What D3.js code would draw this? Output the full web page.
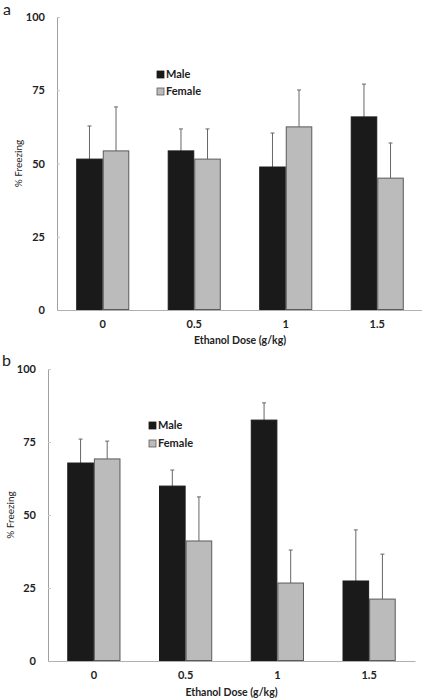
<!DOCTYPE html>
<html><head><meta charset="utf-8">
<script src="https://cdn.jsdelivr.net/npm/d3@7"></script>
<style>
html,body{margin:0;padding:0;background:#fff;}
svg text{font-family:Lato,"Open Sans",sans-serif;}
</style></head>
<body><svg id="c" width="422" height="698"></svg>
<script>
const categories = ["0","0.5","1","1.5"];
const seriesNames = ["Male","Female"];
const yTicks = [0,25,50,75,100];
// panel a
const maleA = [51.5,54.3,48.8,65.9];
const maleAErr = [11.3,7.5,11.6,11.2];
const femaleA = [54.3,51.5,62.5,45.0];
const femaleAErr = [15.0,10.3,12.6,12.0];
// panel b
const maleB = [67.8,59.9,82.5,27.4];
const maleBErr = [8.2,5.5,5.9,17.5];
const femaleB = [69.2,41.1,26.7,21.2];
const femaleBErr = [6.1,15.1,11.3,15.4];

const svg = d3.select("#c");
const colors = {Male:"#1a1a1a", Female:"#bbbbbb"};
const strokes = {Male:"#1a1a1a", Female:"#5a5a5a"};

function panel(cfg){
  const g = svg.append("g");
  const x = d3.scaleBand().domain(categories).range([cfg.x0,cfg.x1]).paddingInner(0.42).paddingOuter(0.21);
  const xs = d3.scaleBand().domain(seriesNames).range([0,x.bandwidth()]);
  const y = d3.scaleLinear().domain([0,100]).range([cfg.y0,cfg.y1]);
  // y axis
  const ya = g.append("g").attr("transform",`translate(${cfg.x0},0)`)
    .call(d3.axisRight(y).tickValues(yTicks).tickSize(3).tickFormat(""));
  ya.select(".domain").attr("stroke","#a0a0a0");
  ya.selectAll(".tick line").attr("stroke","#c8c8c8");
  g.selectAll(".ytl").data(yTicks).join("text").attr("class","ytl")
    .attr("x",cfg.x0-12).attr("y",d=>y(d)+4).attr("text-anchor","end")
    .attr("font-size",11).attr("font-weight","bold").attr("fill","#222").text(d=>d);
  // x axis
  const xa = g.append("g").attr("transform",`translate(0,${cfg.y0})`)
    .call(d3.axisBottom(x).tickSize(0).tickPadding(10));
  xa.select(".domain").attr("stroke","#b0b0b0");
  xa.selectAll("text").attr("font-size",11).attr("font-weight","bold").attr("fill","#222")
    .attr("font-family","Lato,sans-serif");
  g.append("text").attr("x",(cfg.x0+cfg.x1)/2).attr("y",cfg.y0+cfg.titleDy)
    .attr("text-anchor","middle").attr("font-size",10.5).attr("font-weight","bold").attr("fill","#222")
    .text("Ethanol Dose (g/kg)");
  g.append("text").attr("transform",`translate(${cfg.ylx},${(cfg.y0+cfg.y1)/2}) rotate(-90)`)
    .attr("text-anchor","middle").attr("font-size",10).attr("fill","#222").text("% Freezing");
  g.append("text").attr("x",cfg.lx).attr("y",cfg.ly).attr("font-size",16).attr("fill","#222")
    .attr("font-family","'Open Sans',sans-serif").text(cfg.label);
  const data = [];
  categories.forEach((c,i)=>{
    data.push({c,s:"Male",v:cfg.male[i],e:cfg.maleErr[i]});
    data.push({c,s:"Female",v:cfg.female[i],e:cfg.femaleErr[i]});
  });
  // error bars (behind bars)
  const eb = g.selectAll(".eb").data(data).join("g");
  eb.append("line").attr("x1",d=>x(d.c)+xs(d.s)+xs.bandwidth()/2).attr("x2",d=>x(d.c)+xs(d.s)+xs.bandwidth()/2)
    .attr("y1",d=>y(d.v)).attr("y2",d=>y(d.v+d.e)).attr("stroke","#666").attr("stroke-width",1);
  eb.append("line").attr("x1",d=>x(d.c)+xs(d.s)+xs.bandwidth()/2-2).attr("x2",d=>x(d.c)+xs(d.s)+xs.bandwidth()/2+2)
    .attr("y1",d=>y(d.v+d.e)).attr("y2",d=>y(d.v+d.e)).attr("stroke","#666").attr("stroke-width",1);
  g.selectAll(".bar").data(data).join("rect")
    .attr("x",d=>x(d.c)+xs(d.s)+0.5).attr("width",xs.bandwidth()-1)
    .attr("y",d=>y(d.v)).attr("height",d=>y(0)-y(d.v)-0.5)
    .attr("fill",d=>colors[d.s]).attr("stroke",d=>strokes[d.s]).attr("stroke-width",1);
  // legend
  seriesNames.forEach((s,i)=>{
    g.append("rect").attr("x",cfg.legx).attr("y",cfg.legy+i*cfg.legdy-7).attr("width",7).attr("height",7)
      .attr("fill",colors[s]).attr("stroke",strokes[s]).attr("stroke-width",0.8);
    g.append("text").attr("x",cfg.legx+9).attr("y",cfg.legy+i*cfg.legdy).attr("font-size",11)
      .attr("font-weight","bold").attr("fill","#222").text(s);
  });
}

panel({x0:57,x1:423,y0:310,y1:17,titleDy:34,ylx:22,label:"a",lx:3,ly:15,
  male:maleA,maleErr:maleAErr,female:femaleA,femaleErr:femaleAErr,legx:157,legy:78,legdy:17});
panel({x0:48,x1:415,y0:661,y1:369,titleDy:35,ylx:14,label:"b",lx:2,ly:366,
  male:maleB,maleErr:maleBErr,female:femaleB,femaleErr:femaleBErr,legx:149,legy:429,legdy:18});
</script></body></html>
